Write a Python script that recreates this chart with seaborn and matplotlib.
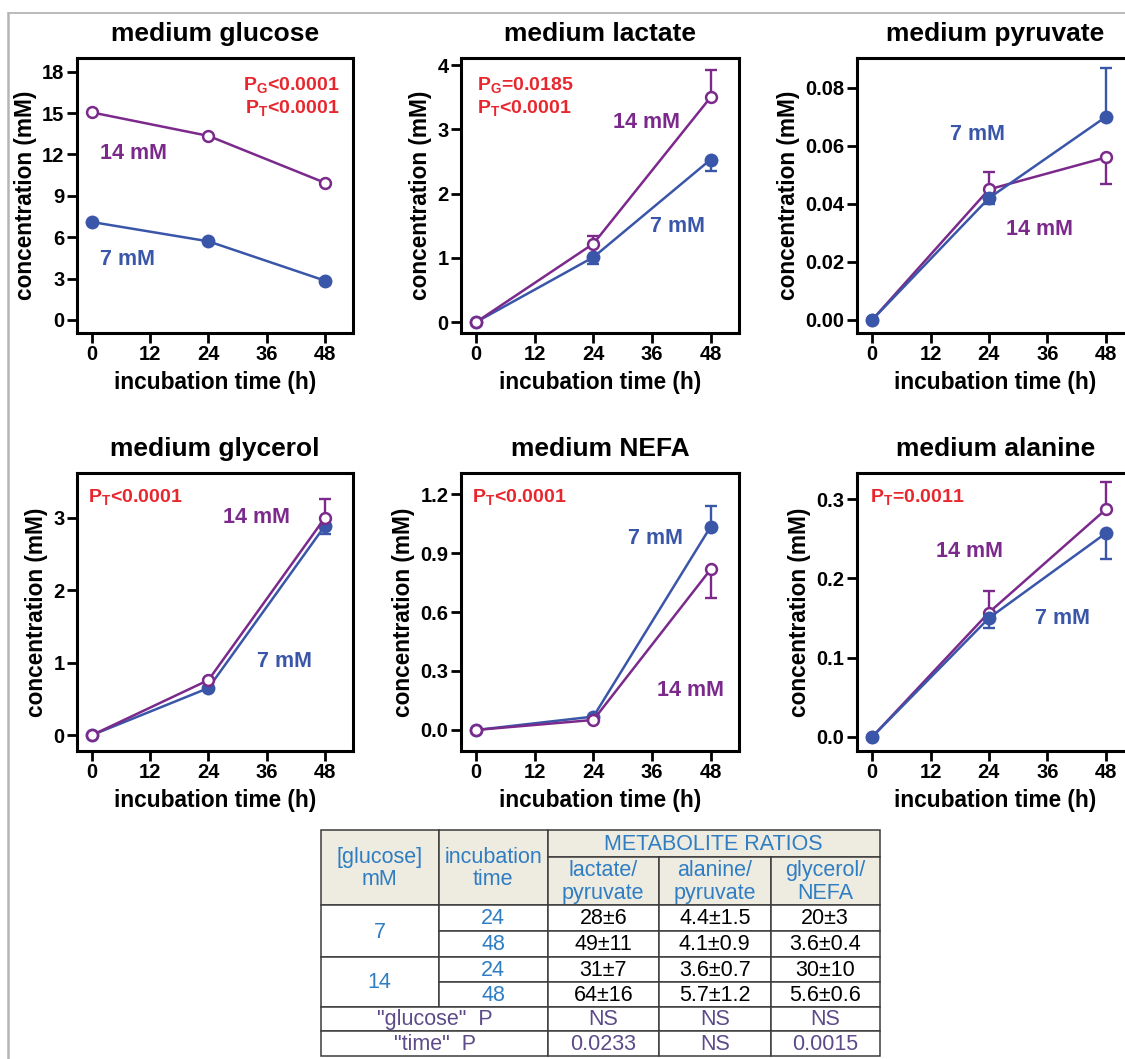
import matplotlib
matplotlib.use("Agg")
import matplotlib.pyplot as plt
import seaborn as sns
import numpy as np
import pandas as pd
from matplotlib.lines import Line2D
from matplotlib.patches import Rectangle

# ---------------- data ----------------
times = [0, 24, 48]

glucose_7 = [7.1, 5.7, 2.85]
glucose_14 = [15.05, 13.35, 9.95]

lactate_7 = [0.0, 1.01, 2.53]
lactate_7_err_lo = [0.0, 0.10, 0.18]
lactate_7_err_up = [0.0, 0.0, 0.0]
lactate_14 = [0.0, 1.22, 3.50]
lactate_14_err_lo = [0.0, 0.0, 0.0]
lactate_14_err_up = [0.0, 0.12, 0.42]

pyruvate_7 = [0.0, 0.042, 0.070]
pyruvate_7_err_lo = [0.0, 0.002, 0.0]
pyruvate_7_err_up = [0.0, 0.0, 0.017]
pyruvate_14 = [0.0, 0.045, 0.056]
pyruvate_14_err_lo = [0.0, 0.0, 0.009]
pyruvate_14_err_up = [0.0, 0.006, 0.0]

glycerol_7 = [0.0, 0.65, 2.89]
glycerol_7_err_lo = [0.0, 0.0, 0.11]
glycerol_7_err_up = [0.0, 0.0, 0.0]
glycerol_14 = [0.0, 0.76, 3.00]
glycerol_14_err_lo = [0.0, 0.0, 0.0]
glycerol_14_err_up = [0.0, 0.0, 0.26]

nefa_7 = [0.0, 0.068, 1.034]
nefa_7_err_lo = [0.0, 0.0, 0.0]
nefa_7_err_up = [0.0, 0.0, 0.105]
nefa_14 = [0.0, 0.051, 0.817]
nefa_14_err_lo = [0.0, 0.0, 0.145]
nefa_14_err_up = [0.0, 0.0, 0.0]

alanine_7 = [0.0, 0.150, 0.257]
alanine_7_err_lo = [0.0, 0.012, 0.033]
alanine_7_err_up = [0.0, 0.0, 0.0]
alanine_14 = [0.0, 0.157, 0.287]
alanine_14_err_lo = [0.0, 0.0, 0.0]
alanine_14_err_up = [0.0, 0.027, 0.035]

zeros3 = [0.0, 0.0, 0.0]

titles = ["medium glucose", "medium lactate", "medium pyruvate",
          "medium glycerol", "medium NEFA", "medium alanine"]
p_texts = [[r"$\mathbf{P_G}$<0.0001", r"$\mathbf{P_T}$<0.0001"],
           [r"$\mathbf{P_G}$=0.0185", r"$\mathbf{P_T}$<0.0001"],
           [],
           [r"$\mathbf{P_T}$<0.0001"],
           [r"$\mathbf{P_T}$<0.0001"],
           [r"$\mathbf{P_T}$=0.0011"]]
series_labels = ["7 mM", "14 mM"]
x_ticks = [0, 12, 24, 36, 48]

# table data
table_glucose = ["7", "14"]
table_times = ["24", "48", "24", "48"]
table_header_left = ["[glucose]\nmM", "incubation\ntime"]
table_group_header = "METABOLITE RATIOS"
ratio_headers = ["lactate/\npyruvate", "alanine/\npyruvate", "glycerol/\nNEFA"]
lactate_pyruvate = ["28±6", "49±11", "31±7", "64±16"]
alanine_pyruvate = ["4.4±1.5", "4.1±0.9", "3.6±0.7", "5.7±1.2"]
glycerol_nefa = ["20±3", "3.6±0.4", "30±10", "5.6±0.6"]
p_row_labels = ['"glucose"  P', '"time"  P']
p_glucose = ["NS", "NS", "NS"]
p_time = ["0.0233", "NS", "0.0015"]

# ---------------- style ----------------
sns.set_theme(style="ticks")
plt.rcParams["font.family"] = ["Liberation Sans", "DejaVu Sans"]
plt.rcParams["mathtext.fontset"] = "custom"
plt.rcParams["mathtext.rm"] = "Liberation Sans"
plt.rcParams["mathtext.bf"] = "Liberation Sans:bold"
plt.rcParams["mathtext.it"] = "Liberation Sans:italic"

BLUE = "#3A56A8"
PURPLE = "#7B2A8C"
RED = "#E8262D"
TBLUE = "#2F7DC2"
TPURPLE = "#5C4B88"
HDR_BG = "#EEEBE0"

W, H = 1125, 1059
fig = plt.figure(figsize=(W / 100, H / 100), dpi=100)
fig.patch.set_facecolor("white")


def px_axes(l, t, r, b):
    return fig.add_axes([l / W, 1 - b / H, (r - l) / W, (b - t) / H])


panels = [
    dict(s7=(glucose_7, zeros3, zeros3), s14=(glucose_14, zeros3, zeros3),
         box=(77, 58, 353, 333), ylim=(-0.95, 19.0), yticks=[0, 3, 6, 9, 12, 15, 18], fmt="{:.0f}",
         lab7=(1.6, 4.35), lab14=(1.6, 12.1), p_pos=(0.953, "right"), top="14"),
    dict(s7=(lactate_7, lactate_7_err_lo, lactate_7_err_up), s14=(lactate_14, lactate_14_err_lo, lactate_14_err_up),
         box=(461, 58, 739, 333), ylim=(-0.17, 4.11), yticks=[0, 1, 2, 3, 4], fmt="{:.0f}",
         lab7=(35.5, 1.49), lab14=(28.0, 3.10), p_pos=(0.056, "left"), top="14"),
    dict(s7=(pyruvate_7, pyruvate_7_err_lo, pyruvate_7_err_up), s14=(pyruvate_14, pyruvate_14_err_lo, pyruvate_14_err_up),
         box=(857, 58, 1134, 333), ylim=(-0.0045, 0.0903), yticks=[0, 0.02, 0.04, 0.06, 0.08], fmt="{:.2f}",
         lab7=(16.1, 0.0638), lab14=(27.6, 0.0313), p_pos=(0.05, "left"), top="7"),
    dict(s7=(glycerol_7, glycerol_7_err_lo, glycerol_7_err_up), s14=(glycerol_14, glycerol_14_err_lo, glycerol_14_err_up),
         box=(77, 473, 353, 751), ylim=(-0.22, 3.62), yticks=[0, 1, 2, 3], fmt="{:.0f}",
         lab7=(34.0, 1.01), lab14=(26.9, 3.0), p_pos=(0.041, "left"), top="14"),
    dict(s7=(nefa_7, nefa_7_err_lo, nefa_7_err_up), s14=(nefa_14, nefa_14_err_lo, nefa_14_err_up),
         box=(461, 473, 739, 751), ylim=(-0.107, 1.307), yticks=[0, 0.3, 0.6, 0.9, 1.2], fmt="{:.1f}",
         lab7=(31.1, 0.975), lab14=(37.1, 0.203), p_pos=(0.038, "left"), top="14"),
    dict(s7=(alanine_7, alanine_7_err_lo, alanine_7_err_up), s14=(alanine_14, alanine_14_err_lo, alanine_14_err_up),
         box=(857, 473, 1134, 751), ylim=(-0.0177, 0.333), yticks=[0, 0.1, 0.2, 0.3], fmt="{:.1f}",
         lab7=(33.4, 0.150), lab14=(13.1, 0.234), p_pos=(0.047, "left"), top="7"),
]

for i, pn in enumerate(panels):
    ax = px_axes(*pn["box"])
    ax.set_facecolor("white")
    order = ["14", "7"] if pn["top"] == "7" else ["7", "14"]  # bottom first
    for key in order:
        vals, lo, up = pn["s" + key]
        if key == "7":
            col = BLUE
            mk = dict(marker="o", markersize=10, markerfacecolor=BLUE, markeredgecolor=BLUE, markeredgewidth=0)
        else:
            col = PURPLE
            mk = dict(marker="o", markersize=7.8, markerfacecolor="white", markeredgecolor=PURPLE, markeredgewidth=1.8)
        z = 4 if pn["top"] == key else 3
        if any(v > 0 for v in lo) or any(v > 0 for v in up):
            ax.errorbar(times, vals, yerr=[lo, up], fmt="none", ecolor=col, elinewidth=1.7,
                        capsize=4.5, capthick=1.7, zorder=z - 0.5)
        sns.lineplot(x=times, y=vals, ax=ax, color=col, linewidth=1.8, errorbar=None,
                     zorder=z, **mk)
    ax.set_xlim(-3.1, 53.8)
    ax.set_ylim(*pn["ylim"])
    ax.set_xticks(x_ticks)
    ax.set_xticklabels([str(t) for t in x_ticks])
    ax.set_yticks(pn["yticks"])
    ax.set_yticklabels([pn["fmt"].format(v) for v in pn["yticks"]])
    for s in ax.spines.values():
        s.set_linewidth(2.2)
        s.set_color("black")
        s.set_visible(True)
    ax.tick_params(axis="both", width=2, length=7, labelsize=14.5, pad=2, color="black", labelcolor="black")
    for lab in ax.get_xticklabels() + ax.get_yticklabels():
        lab.set_fontweight("bold")
    ax.set_xlabel("incubation time (h)", fontsize=16.3, fontweight="bold", labelpad=5, color="black")
    ax.set_ylabel("concentration (mM)", fontsize=16.3, fontweight="bold", labelpad=4, color="black")
    ax.set_title(titles[i], fontsize=19, fontweight="bold", pad=12, color="black")
    ax.text(pn["lab7"][0], pn["lab7"][1], series_labels[0], color=BLUE, fontsize=15.5,
            fontweight="bold", ha="left", va="center")
    ax.text(pn["lab14"][0], pn["lab14"][1], series_labels[1], color=PURPLE, fontsize=15.5,
            fontweight="bold", ha="left", va="center")
    px, ha = pn["p_pos"]
    top_y = 0.902 if i < 3 else 0.915
    for j, t in enumerate(p_texts[i]):
        ax.text(px, top_y - j * 0.084, t, transform=ax.transAxes, color=RED, fontsize=14,
                fontweight="bold", ha=ha, va="center")
    ax.grid(False)

# ---------------- table ----------------
tax = px_axes(321, 830, 879.5, 1056)
tax.set_xlim(0, 558.5)
tax.set_ylim(226, 0)
tax.axis("off")
cx = [0, 117.5, 227, 337.5, 450, 558.5]
ry = [0, 27, 75, 101, 127, 152, 176.5, 201, 226]
FS = 15.5


def cell(r0, r1, c0, c1, text, color, bg="white"):
    rect = Rectangle((cx[c0], ry[r0]), cx[c1] - cx[c0], ry[r1] - ry[r0], facecolor=bg,
                     edgecolor="#3C3C3C", linewidth=1.1, clip_on=False)
    tax.add_patch(rect)
    tax.text((cx[c0] + cx[c1]) / 2, (ry[r0] + ry[r1]) / 2 + 1, text, color=color, fontsize=FS,
             ha="center", va="center", linespacing=1.12)


cell(0, 2, 0, 1, table_header_left[0], TBLUE, HDR_BG)
cell(0, 2, 1, 2, table_header_left[1], TBLUE, HDR_BG)
cell(0, 1, 2, 5, table_group_header, TBLUE, HDR_BG)
for k, h in enumerate(ratio_headers):
    cell(1, 2, 2 + k, 3 + k, h, TBLUE, HDR_BG)
for g, gl in enumerate(table_glucose):
    cell(2 + 2 * g, 4 + 2 * g, 0, 1, gl, TBLUE)
cols = [lactate_pyruvate, alanine_pyruvate, glycerol_nefa]
for r in range(4):
    cell(2 + r, 3 + r, 1, 2, table_times[r], TBLUE)
    for k in range(3):
        cell(2 + r, 3 + r, 2 + k, 3 + k, cols[k][r], "black")
for pr, (lab, vals) in enumerate(zip(p_row_labels, [p_glucose, p_time])):
    cell(6 + pr, 7 + pr, 0, 2, lab, TPURPLE)
    for k in range(3):
        cell(6 + pr, 7 + pr, 2 + k, 3 + k, vals[k], TPURPLE)

# ---------------- frame ----------------
fig.add_artist(Line2D([8 / W, 8 / W], [0, 1 - 13 / H], color="#B5B5B5", linewidth=1.8))
fig.add_artist(Line2D([8 / W, 1], [1 - 13 / H, 1 - 13 / H], color="#B5B5B5", linewidth=1.3))

fig.savefig("out.png", dpi=100, facecolor="white")
